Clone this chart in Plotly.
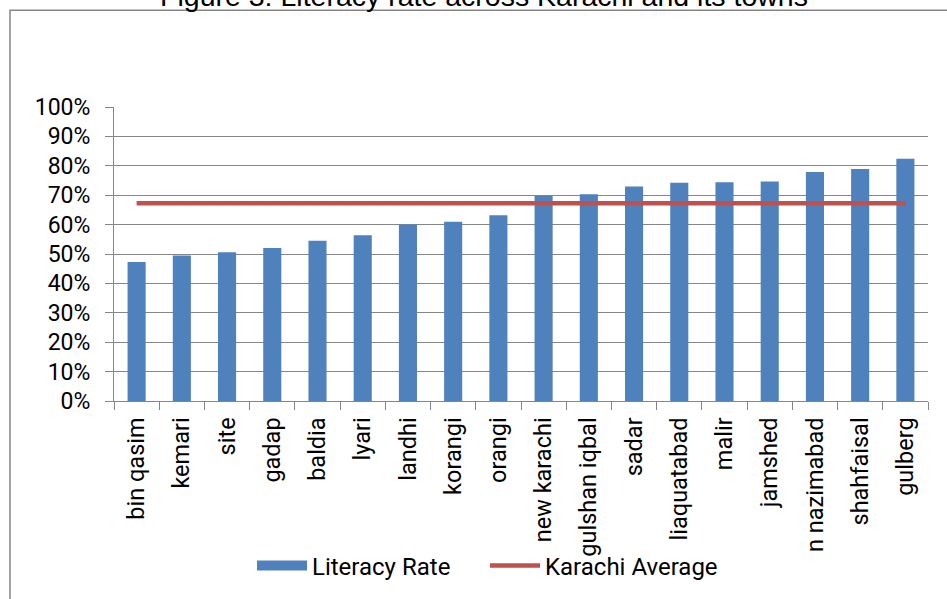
import plotly.graph_objects as go

towns = ["bin qasim", "kemari", "site", "gadap", "baldia", "lyari", "landhi", "korangi",
         "orangi", "new karachi", "gulshan iqbal", "sadar", "liaquatabad", "malir",
         "jamshed", "n nazimabad", "shahfaisal", "gulberg"]
literacy_rate = [0.473, 0.495, 0.506, 0.520, 0.545, 0.564, 0.600, 0.610,
                 0.632, 0.698, 0.703, 0.730, 0.742, 0.744, 0.747, 0.779, 0.789, 0.824]
karachi_average = [0.673] * len(towns)

FONT = "Roboto"
BLUE = "#4F81BD"
RED = "#C0504D"
GRAY = "#868686"

fig = go.Figure()
fig.add_trace(go.Bar(x=towns, y=literacy_rate, name="Literacy Rate", showlegend=False,
                     marker=dict(color=BLUE, line=dict(width=0))))
# legend swatch for the bars (wide rectangle like the original)
fig.add_trace(go.Scatter(x=[None], y=[None], name="Literacy Rate", mode="lines",
                         line=dict(color=BLUE, width=14)))
fig.add_trace(go.Scatter(x=towns, y=karachi_average, name="Karachi Average", mode="lines",
                         line=dict(color=RED, width=4.5)))

fig.update_layout(
    width=947, height=599,
    margin=dict(l=114, r=19, t=107, b=197),
    paper_bgcolor="white", plot_bgcolor="white",
    font=dict(family=FONT, size=23, color="black"),
    bargap=0.6,
    showlegend=True,
    title=dict(text="Figure 3: Literacy rate across Karachi and its towns",
               x=484/947, xanchor="center", y=1 - 6/599, yanchor="bottom",
               pad=dict(t=0, b=0),
               font=dict(family="Liberation Sans", size=28.5, color="black")),
    legend=dict(orientation="h", x=(252-114)/814, xanchor="left", y=-(566-402)/295,
                yanchor="middle", font=dict(family=FONT, size=24), itemwidth=50,
                entrywidth=168, entrywidthmode="pixels",
                bgcolor="rgba(0,0,0,0)"),
    xaxis=dict(tickangle=-90, showgrid=False, showline=True, linecolor=GRAY,
               ticks="outside", tickson="boundaries", ticklen=8, tickcolor=GRAY,
               ticklabelstandoff=6,
               tickfont=dict(family=FONT, size=23.5), automargin=False),
    yaxis=dict(range=[0, 1], dtick=0.1, tickformat=".0%", showgrid=True,
               gridcolor=GRAY, gridwidth=1, showline=True, linecolor=GRAY,
               ticks="outside", ticklen=8, tickcolor=GRAY, zeroline=False,
               ticklabelstandoff=10,
               tickfont=dict(family=FONT, size=23), automargin=False),
    shapes=[dict(type="rect", xref="paper", yref="paper",
                 x0=(10-114)/814, x1=1.2, y0=-1.2, y1=(402-10)/295,
                 line=dict(color=GRAY, width=1.5), fillcolor="rgba(0,0,0,0)",
                 layer="below")],
)

fig.write_html("out.html", config={"displayModeBar": False},
               post_script="document.body.style.margin='0px';")
